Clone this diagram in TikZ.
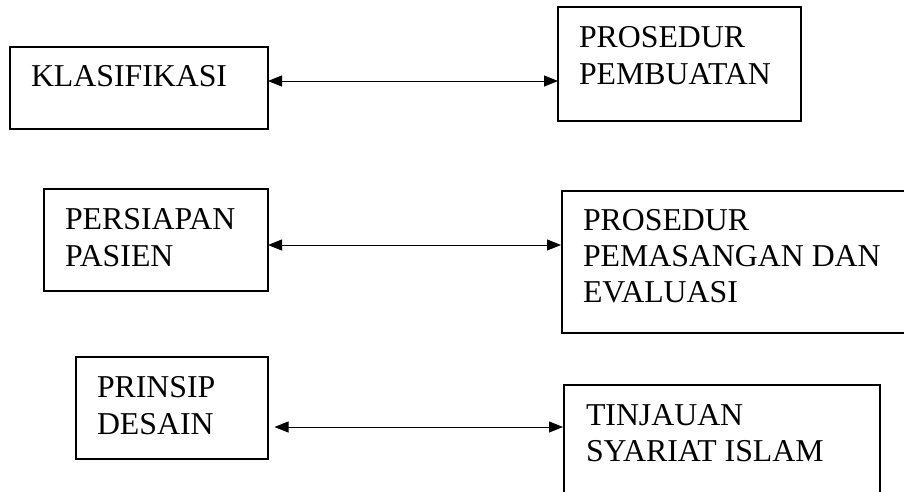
\documentclass[tikz,border=0pt]{standalone}
\usepackage{fontspec}
\newfontfamily\tnr{Liberation Serif}
\usetikzlibrary{arrows.meta}
\begin{document}
\begin{tikzpicture}[x=1pt,y=-1pt,
  boxnode/.style={draw=black,line width=1.2pt,rectangle,inner sep=0pt,outer sep=0pt},
  lbl/.style={anchor=base west,inner sep=0pt,outer sep=0pt,font=\tnr\fontsize{31.8}{36}\selectfont},
  arr/.style={line width=1pt,{Triangle[length=14pt,width=11pt]}-{Triangle[length=14pt,width=11pt]}}]
\useasboundingbox (0,0) rectangle (904,491);
\clip (0,0) rectangle (904,491);
% boxes
\node[boxnode,minimum width=258pt,minimum height=82pt] (b1) at (139,88) {};
\node[boxnode,minimum width=243pt,minimum height=114pt] (b2) at (679.5,64) {};
\node[boxnode,minimum width=224pt,minimum height=102pt] (b3) at (156,240) {};
\node[boxnode,minimum width=358pt,minimum height=142pt] (b4) at (741,262) {};
\node[boxnode,minimum width=192pt,minimum height=102pt] (b5) at (172,408) {};
\node[boxnode,minimum width=316pt,minimum height=125pt] (b6) at (722,447.5) {};
% texts
\node[lbl] (t1) at (31,86) {KLASIFIKASI};
\node[lbl] (t2a) at (579,47) {PROSEDUR};
\node[lbl] (t2b) at (579,84.3) {PEMBUATAN};
\node[lbl] (t3a) at (65,229.5) {PERSIAPAN};
\node[lbl] (t3b) at (65,266.7) {PASIEN};
\node[lbl] (t4a) at (583,230.7) {PROSEDUR};
\node[lbl] (t4b) at (583,266.7) {PEMASANGAN DAN};
\node[lbl] (t4c) at (583,302.7) {EVALUASI};
\node[lbl] (t5a) at (97,397.7) {PRINSIP};
\node[lbl] (t5b) at (97,434.3) {DESAIN};
\node[lbl] (t6a) at (586,425) {TINJAUAN};
\node[lbl] (t6b) at (586,461.7) {SYARIAT ISLAM};
% arrow levels
\coordinate (y1) at (0,81);
\coordinate (y2) at (0,245);
\coordinate (y3) at (0,427);
\coordinate (a3l) at ([xshift=6.5pt]b5.east);
\draw[arr] (b1.east |- y1) -- (b2.west |- y1);
\draw[arr] (b3.east |- y2) -- ([xshift=-1pt]b4.west |- y2);
\draw[arr] (a3l |- y3) -- ([xshift=-1pt]b6.west |- y3);
\end{tikzpicture}
\end{document}
